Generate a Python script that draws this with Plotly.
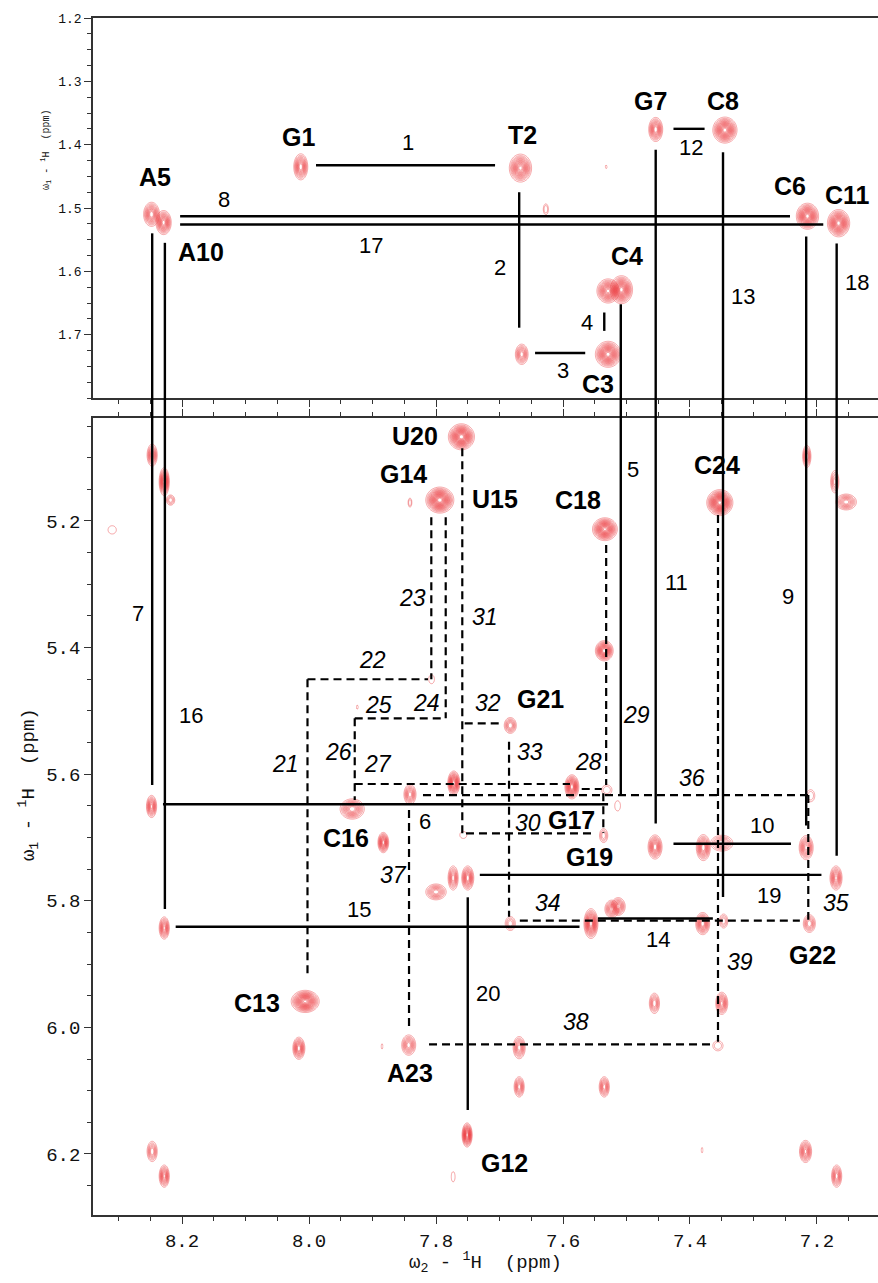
import numpy as np
import plotly.graph_objects as go

RED = "#ea3a3e"

# ---------------- spectral windows (ppm) ----------------
X_RANGE = [8.3402, 7.1039]
Y_TOP_RANGE = [1.8, 1.2]
Y_BOT_RANGE = [6.2964, 5.0373]
TOP_DOMAIN = [0.68254, 1.0]
BOT_DOMAIN = [0.0, 0.66583]

# ---------------- cross peaks, methyl window ----------------
top_x = [8.013, 7.667, 8.248, 8.229, 7.627, 7.532, 7.454, 7.345, 7.215, 7.166,
         7.529, 7.508, 7.529, 7.665]
top_y = [1.435, 1.437, 1.510, 1.523, 1.502, 1.435, 1.376, 1.377, 1.513, 1.524,
         1.631, 1.629, 1.731, 1.731]
top_wx = [0.022, 0.035, 0.025, 0.024, 0.008, 0.003, 0.022, 0.038, 0.035, 0.035,
          0.035, 0.035, 0.040, 0.020]
top_wy = [0.041, 0.044, 0.038, 0.038, 0.017, 0.005, 0.038, 0.041, 0.041, 0.043,
          0.038, 0.044, 0.041, 0.032]
top_n = [8, 10, 8, 9, 2, 1, 8, 12, 12, 12, 10, 12, 12, 6]

# ---------------- cross peaks, H5/H1' window ----------------
bot_x = [7.760, 7.794, 7.841, 8.247, 8.228, 8.218, 8.310, 7.807, 7.534, 7.535,
         7.353, 7.216, 7.172, 7.154, 8.248, 8.228, 7.932, 7.883, 7.841, 7.772,
         7.757, 7.683, 7.773, 7.750, 7.800, 7.683, 7.924, 7.586, 7.531, 7.514,
         7.536, 7.455, 7.379, 7.350, 7.217, 7.210, 7.170, 7.556, 7.523, 7.513,
         7.380, 7.347, 7.212, 8.006, 8.016, 7.885, 7.843, 7.669, 7.669, 7.535,
         7.456, 7.350, 7.356, 7.751, 8.247, 8.228, 7.773, 7.381, 7.218, 7.169]
bot_y = [5.067, 5.167, 5.171, 5.096, 5.138, 5.167, 5.214, 5.450, 5.213, 5.405,
         5.171, 5.098, 5.138, 5.170, 5.651, 5.843, 5.655, 5.708, 5.632, 5.614,
         5.696, 5.523, 5.764, 5.764, 5.786, 5.836, 5.494, 5.620, 5.625, 5.650,
         5.697, 5.715, 5.716, 5.709, 5.716, 5.634, 5.764, 5.836, 5.813, 5.809,
         5.836, 5.832, 5.836, 5.959, 6.033, 6.030, 6.028, 6.032, 6.094, 6.094,
         5.962, 5.962, 6.029, 6.170, 6.196, 6.235, 6.236, 6.194, 6.196, 6.235]
bot_wx = [0.041, 0.044, 0.006, 0.016, 0.016, 0.013, 0.013, 0.009, 0.039, 0.028,
          0.041, 0.013, 0.013, 0.032, 0.016, 0.016, 0.038, 0.017, 0.019, 0.019,
          0.011, 0.019, 0.016, 0.019, 0.032, 0.016, 0.003, 0.022, 0.016, 0.009,
          0.013, 0.022, 0.022, 0.035, 0.022, 0.013, 0.019, 0.022, 0.022, 0.022,
          0.022, 0.013, 0.019, 0.044, 0.019, 0.003, 0.022, 0.019, 0.016, 0.016,
          0.016, 0.019, 0.016, 0.016, 0.016, 0.016, 0.006, 0.003, 0.019, 0.016]
bot_wy = [0.041, 0.041, 0.014, 0.035, 0.044, 0.016, 0.013, 0.014, 0.036, 0.032,
          0.041, 0.035, 0.035, 0.025, 0.035, 0.035, 0.032, 0.032, 0.032, 0.038,
          0.011, 0.025, 0.038, 0.038, 0.025, 0.022, 0.006, 0.038, 0.016, 0.016,
          0.022, 0.038, 0.041, 0.025, 0.038, 0.019, 0.038, 0.047, 0.028, 0.028,
          0.035, 0.022, 0.028, 0.035, 0.035, 0.008, 0.032, 0.035, 0.032, 0.032,
          0.032, 0.035, 0.016, 0.038, 0.032, 0.035, 0.016, 0.008, 0.035, 0.035]
bot_n = [14, 14, 2, 6, 9, 3, 1, 1, 13, 11,
         15, 5, 4, 6, 7, 7, 8, 9, 6, 11,
         1, 5, 6, 8, 6, 3, 1, 11, 2, 1,
         3, 8, 8, 5, 7, 2, 7, 11, 6, 6,
         8, 3, 5, 13, 8, 1, 6, 6, 6, 6,
         5, 7, 2, 11, 5, 7, 1, 1, 7, 6]

# ---------------- sequential walk, methyl window (solid) ----------------
top_walk = [
    (7.989, 1.4325, 7.707, 1.4325),   # 1
    (7.669, 1.4751, 7.669, 1.6890),   # 2
    (7.644, 1.7290, 7.565, 1.7290),   # 3
    (7.535, 1.6650, 7.535, 1.6940),   # 4
    (8.203, 1.5130, 7.2425, 1.5130),  # 8
    (8.203, 1.5260, 7.1901, 1.5260),  # 17
    (7.426, 1.3750, 7.377, 1.3750),   # 12
]

# walk lines running from the methyl window down into the H5/H1' window
cross_x = [8.247, 8.227, 7.509, 7.454, 7.348, 7.217, 7.169]      # 7, 16, 5, 11, 13, 9, 18
cross_y_top = [1.540, 1.555, 1.652, 1.408, 1.412, 1.545, 1.556]
cross_y_bot = [5.617, 5.813, 5.633, 5.678, 5.794, 5.681, 5.729]

# ---------------- sequential walk, H5/H1' window ----------------
bot_walk = [
    (8.230, 5.6476, 7.529, 5.6476),   # 6
    (8.210, 5.8410, 7.574, 5.8410),   # 15
    (7.545, 5.8280, 7.364, 5.8280),   # 14
    (7.426, 5.7100, 7.241, 5.7100),   # 10
    (7.731, 5.7590, 7.193, 5.7590),   # 19
    (7.750, 5.7945, 7.750, 6.1305),   # 20
]
bot_walk_dashed = [
    (8.0024, 5.4500, 8.0024, 5.9170),  # 21
    (8.0024, 5.4500, 7.8126, 5.4500),  # 22
    (7.8074, 5.1940, 7.8074, 5.4500),  # 23
    (7.7847, 5.1940, 7.7847, 5.5117),  # 24
    (7.9280, 5.5117, 7.7847, 5.5117),  # 25
    (7.9280, 5.5117, 7.9280, 5.6408),  # 26
    (7.9280, 5.6155, 7.5890, 5.6155),  # 27
    (7.5705, 5.6234, 7.5390, 5.6234),  # 28
    (7.5365, 5.6300, 7.5365, 5.6930),  # 28
    (7.5320, 5.2380, 7.5320, 5.6170),  # 29
    (7.7528, 5.6934, 7.5543, 5.6934),  # 30
    (7.7586, 5.0851, 7.7586, 5.6934),  # 31
    (7.7548, 5.5196, 7.6972, 5.5196),  # 32
    (7.6850, 5.5487, 7.6850, 5.8251),  # 33
    (7.6680, 5.8314, 7.2270, 5.8314),  # 34/35
    (7.2137, 5.6330, 7.2137, 5.8298),  # 35
    (7.8205, 5.6330, 7.2137, 5.6330),  # 36
    (7.8425, 5.6566, 7.8425, 6.0009),  # 37
    (7.8110, 6.0267, 7.3638, 6.0267),  # 38
    (7.3559, 5.1905, 7.3559, 6.0226),  # 39
]

# ---------------- labels ----------------
top_labels = [
    ("G1", 8.0173, 1.3872, "res"), ("T2", 7.663, 1.384, "res"),
    ("A5", 8.2425, 1.4503, "res"), ("A10", 8.170, 1.570, "res"),
    ("G7", 7.4619, 1.3315, "res"), ("C8", 7.3485, 1.3315, "res"),
    ("C6", 7.2425, 1.4645, "res"), ("C11", 7.1512, 1.4787, "res"),
    ("C4", 7.4997, 1.576, "res"), ("C3", 7.5449, 1.7784, "res"),
    ("1", 7.8441, 1.3967, "num"), ("8", 8.1339, 1.4866, "num"),
    ("17", 7.9024, 1.5591, "num"), ("2", 7.6992, 1.5938, "num"),
    ("4", 7.5627, 1.6801, "num"), ("3", 7.600, 1.7558, "num"),
    ("12", 7.3989, 1.4050, "num"), ("13", 7.3161, 1.6391, "num"),
    ("18", 7.1375, 1.6170, "num"),
]
bot_labels = [
    ("U20", 7.8335, 5.0657, "res"), ("G14", 7.8509, 5.1257, "res"),
    ("U15", 7.7076, 5.1657, "res"), ("C18", 7.5759, 5.1668, "res"),
    ("C24", 7.358, 5.1115, "res"), ("G21", 7.6362, 5.4812, "res"),
    ("C16", 7.9417, 5.7013, "res"), ("G17", 7.5863, 5.6724, "res"),
    ("G19", 7.5586, 5.7303, "res"), ("G22", 7.2068, 5.8856, "res"),
    ("C13", 8.0819, 5.9610, "res"), ("A23", 7.8402, 6.0716, "res"),
    ("G12", 7.6929, 6.2142, "res"),
    ("7", 8.2693, 5.3458, "num"), ("16", 8.1854, 5.5065, "num"),
    ("5", 7.4902, 5.1183, "num"), ("11", 7.4210, 5.2975, "num"),
    ("9", 7.2452, 5.3185, "num"), ("6", 7.8178, 5.6750, "num"),
    ("15", 7.9213, 5.8145, "num"), ("14", 7.4499, 5.8608, "num"),
    ("10", 7.2871, 5.6803, "num"), ("19", 7.2751, 5.7924, "num"),
    ("20", 7.7181, 5.9457, "num"),
    ("21", 8.0367, 5.5839, "ital"), ("22", 7.9003, 5.4196, "ital"),
    ("23", 7.8373, 5.3221, "ital"), ("24", 7.8153, 5.4880, "ital"),
    ("25", 7.8898, 5.4907, "ital"), ("26", 7.9543, 5.5645, "ital"),
    ("27", 7.8918, 5.5839, "ital"), ("28", 7.5601, 5.5803, "ital"),
    ("29", 7.4839, 5.5065, "ital"), ("30", 7.6551, 5.6776, "ital"),
    ("31", 7.7233, 5.3512, "ital"), ("32", 7.7181, 5.4880, "ital"),
    ("33", 7.6524, 5.5645, "ital"), ("34", 7.6232, 5.8039, "ital"),
    ("35", 7.1701, 5.8039, "ital"), ("36", 7.3973, 5.6065, "ital"),
    ("37", 7.8677, 5.7593, "ital"), ("38", 7.5803, 5.9910, "ital"),
    ("39", 7.3213, 5.8962, "ital"),
]

x_ticks = [8.2, 8.0, 7.8, 7.6, 7.4, 7.2]
y_top_ticks = [1.2, 1.3, 1.4, 1.5, 1.6, 1.7]
y_bot_ticks = [5.2, 5.4, 5.6, 5.8, 6.0, 6.2]


def peak_contour(x0, y0, wx, wy, n, xa, ya):
    """Gaussian cross peak drawn as closely spaced contour rings; outer ring spans wx by wy."""
    amp = n + 0.5
    k = np.sqrt(2.0 * np.log(amp))
    sx, sy = (wx / 2.0) / k, (wy / 2.0) / k
    gx = np.linspace(x0 - 0.75 * wx, x0 + 0.75 * wx, 45)
    gy = np.linspace(y0 - 0.75 * wy, y0 + 0.75 * wy, 45)
    X, Y = np.meshgrid(gx, gy)
    Z = amp * np.exp(-0.5 * (((X - x0) / sx) ** 2 + ((Y - y0) / sy) ** 2))
    return go.Contour(
        x=gx, y=gy, z=Z.astype(np.float32),
        xaxis=xa, yaxis=ya,
        autocontour=False,
        contours=dict(start=1, end=n, size=0.6, coloring="lines"),
        colorscale=[[0, RED], [1, RED]],
        line=dict(width=0.45, smoothing=1),
        showscale=False, hoverinfo="skip",
    )


fig = go.Figure()
for i in range(len(top_x)):
    fig.add_trace(peak_contour(top_x[i], top_y[i], top_wx[i], top_wy[i], top_n[i], "x2", "y2"))
for i in range(len(bot_x)):
    fig.add_trace(peak_contour(bot_x[i], bot_y[i], bot_wx[i], bot_wy[i], bot_n[i], "x", "y"))

SOLID = dict(color="black", width=2.4)
DASHED = dict(color="black", width=2.2, dash="8px,5px")

shapes = []
for x0, y0, x1, y1 in top_walk:
    shapes.append(dict(type="line", xref="x2", yref="y2", x0=x0, y0=y0, x1=x1, y1=y1, line=SOLID))
for x0, y0, x1, y1 in bot_walk:
    shapes.append(dict(type="line", xref="x", yref="y", x0=x0, y0=y0, x1=x1, y1=y1, line=SOLID))
for x0, y0, x1, y1 in bot_walk_dashed:
    shapes.append(dict(type="line", xref="x", yref="y", x0=x0, y0=y0, x1=x1, y1=y1, line=DASHED))
for xc, yt, yb in zip(cross_x, cross_y_top, cross_y_bot):
    shapes.append(dict(type="line", xref="x2", yref="y2", x0=xc, y0=yt, x1=xc, y1=Y_TOP_RANGE[0], line=SOLID))
    shapes.append(dict(type="line", xref="x", yref="paper", x0=xc, y0=BOT_DOMAIN[1], x1=xc, y1=TOP_DOMAIN[0], line=SOLID))
    shapes.append(dict(type="line", xref="x", yref="y", x0=xc, y0=Y_BOT_RANGE[1], x1=xc, y1=yb, line=SOLID))

FONTS = {
    "res": dict(family="Liberation Sans, Arial", size=25, color="black", weight="bold"),
    "num": dict(family="Liberation Sans, Arial", size=22, color="black"),
    "ital": dict(family="Liberation Sans, Arial", size=23, color="black", style="italic"),
}
annotations = []
for text, x, y, kind in top_labels:
    annotations.append(dict(text=text, x=x, y=y, xref="x2", yref="y2", showarrow=False,
                            xanchor="center", yanchor="middle", font=FONTS[kind]))
for text, x, y, kind in bot_labels:
    annotations.append(dict(text=text, x=x, y=y, xref="x", yref="y", showarrow=False,
                            xanchor="center", yanchor="middle", font=FONTS[kind]))

MONO = "Liberation Mono, Courier New, monospace"
SP = "\u00a0"
annotations.append(dict(text=f"\u03c9<sub>2</sub>{SP}-{SP}<sup>1</sup>H{SP}{SP}(ppm)",
                        x=0.4994, y=-0.0393, xref="paper", yref="paper", showarrow=False,
                        xanchor="center", yanchor="middle", font=dict(family=MONO, size=19, color="#111")))
annotations.append(dict(text=f"\u03c9<sub>1</sub>{SP}-{SP}<sup>1</sup>H{SP}{SP}(ppm)",
                        x=-0.0828, y=0.3592, xref="paper", yref="paper", showarrow=False,
                        textangle=-90, xanchor="center", yanchor="middle",
                        font=dict(family=MONO, size=19, color="#111")))
annotations.append(dict(text=f"\u03c9<sub>1</sub>{SP}-{SP}<sup>1</sup>H{SP}{SP}(ppm)",
                        x=-0.0599, y=0.8897, xref="paper", yref="paper", showarrow=False,
                        textangle=-90, xanchor="center", yanchor="middle",
                        font=dict(family=MONO, size=10, color="#111")))

AXLINE = dict(showline=True, linecolor="#333", linewidth=1.5, showgrid=False, zeroline=False,
              ticks="outside", tickcolor="#333", tickwidth=1.3, ticklen=7)

fig.update_layout(
    width=878, height=1283,
    margin=dict(l=93, r=0, t=18, b=68),
    paper_bgcolor="white", plot_bgcolor="white",
    showlegend=False,
    xaxis=dict(domain=[0, 1], range=X_RANGE, anchor="y", tickvals=x_ticks,
               ticktext=[f"{v:.1f}" for v in x_ticks], mirror="ticks",
               tickfont=dict(family=MONO, size=19, color="#111"),
               minor=dict(dtick=0.05, tick0=0, ticks="outside", ticklen=4, tickcolor="#333", tickwidth=1),
               **AXLINE),
    xaxis2=dict(domain=[0, 1], range=X_RANGE, anchor="y2", matches="x", tickvals=x_ticks,
                showticklabels=False, mirror=True,
                minor=dict(dtick=0.05, tick0=0, ticks="outside", ticklen=4, tickcolor="#333", tickwidth=1),
                **AXLINE),
    yaxis=dict(domain=BOT_DOMAIN, range=Y_BOT_RANGE, anchor="x", tickvals=y_bot_ticks,
               ticktext=[f"{v:.1f}" for v in y_bot_ticks],
               tickfont=dict(family=MONO, size=19, color="#111"),
               minor=dict(dtick=0.05, tick0=0, ticks="outside", ticklen=4, tickcolor="#333", tickwidth=1),
               **AXLINE),
    yaxis2=dict(domain=TOP_DOMAIN, range=Y_TOP_RANGE, anchor="x2", tickvals=y_top_ticks,
                ticktext=[f"{v:.1f}" for v in y_top_ticks],
                tickfont=dict(family=MONO, size=13, color="#111"),
                minor=dict(dtick=0.025, tick0=0, ticks="outside", ticklen=4, tickcolor="#333", tickwidth=1),
                **AXLINE),
    shapes=shapes,
    annotations=annotations,
)

fig.write_html("out.html")
